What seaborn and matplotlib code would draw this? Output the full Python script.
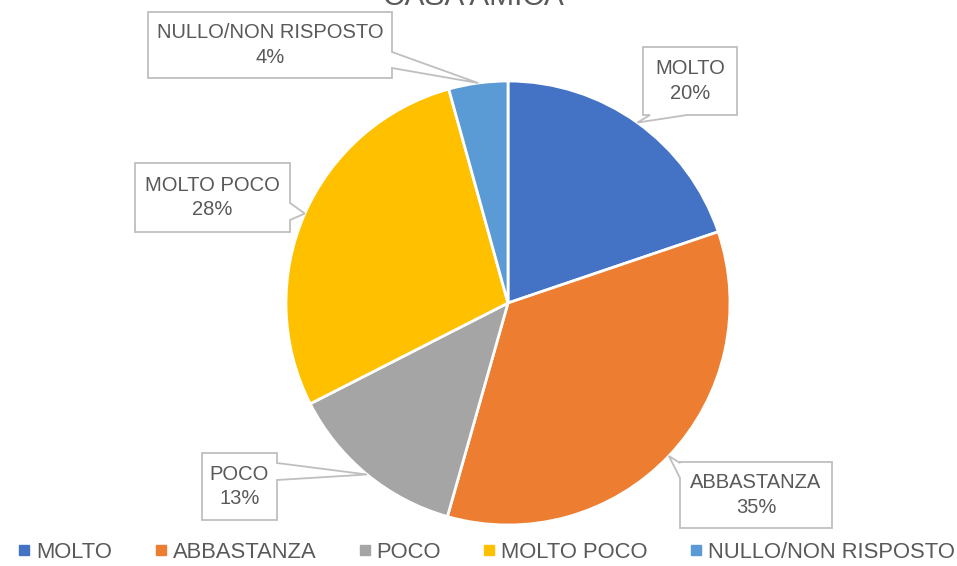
import numpy as np
import matplotlib
matplotlib.use("Agg")
import matplotlib.pyplot as plt
from matplotlib.patches import Polygon
from matplotlib.lines import Line2D
import seaborn as sns

# ---- data ----
title = "CASA AMICA"
categories = ["MOLTO", "ABBASTANZA", "POCO", "MOLTO POCO", "NULLO/NON RISPOSTO"]
values = [19.8, 34.6, 13.1, 28.2, 4.3]
colors = ["#4472C4", "#ED7D31", "#A5A5A5", "#FFC000", "#5B9BD5"]

sns.set_theme(style="white")
plt.rcParams['font.family'] = ['Liberation Sans', 'DejaVu Sans']
TXT = "#595959"

W, H = 957, 566
fig = plt.figure(figsize=(W / 100, H / 100), dpi=100)
ax = fig.add_axes([0, 0, 1, 1])

# pie geometry in pixels (layout)
CX, CY, R = 508, 303, 222

wedges, _ = ax.pie(values, colors=sns.color_palette(colors), startangle=90,
                   counterclock=False, radius=1.0,
                   wedgeprops=dict(edgecolor="white", linewidth=2))
ax.set_aspect('auto')
ax.set_xlim(-CX / R, (W - CX) / R)
ax.set_ylim(-(H - CY) / R, CY / R)
ax.axis('off')


def px(x, y):
    return ((x - CX) / R, (CY - y) / R)


# callout layout: box (x0, y0, x1, y1) in pixels, side, base interval
callouts = [
    ((643, 47, 737, 115), 'bottom', (650, 687)),
    ((680, 462, 832, 528), 'left', (463, 478)),
    ((202, 453, 277, 520), 'right', (463, 480)),
    ((135, 163, 290, 232), 'right', (203, 220)),
    ((148, 12, 392, 78), 'right', (52, 68)),
]

total = sum(values)
for w, cat, val, (box, side, base) in zip(wedges, categories, values, callouts):
    mid = np.deg2rad((w.theta1 + w.theta2) / 2)
    tx, ty = np.cos(mid), np.sin(mid)
    tip_px = (CX + tx * R, CY - ty * R)
    x0, y0, x1, y1 = box
    a, b = base
    if side == 'right':
        verts = [(x0, y0), (x1, y0), (x1, a), tip_px, (x1, b), (x1, y1), (x0, y1)]
    elif side == 'left':
        verts = [(x0, y0), (x1, y0), (x1, y1), (x0, y1), (x0, b), tip_px, (x0, a)]
    else:
        verts = [(x0, y0), (x1, y0), (x1, y1), (b, y1), tip_px, (a, y1), (x0, y1)]
    poly = Polygon([px(*v) for v in verts], closed=True, facecolor="white",
                   edgecolor="#BFBFBF", linewidth=1.3, zorder=3)
    ax.add_patch(poly)
    cxp, cyp = px((x0 + x1) / 2, (y0 + y1) / 2)
    ax.text(cxp, cyp, f"{cat}\n{round(val / total * 100):.0f}%", ha='center',
            va='center', fontsize=14.5, color=TXT, linespacing=1.35, zorder=4)

fig.text(473 / W, 1 - 5 / H, title, ha='center', va='baseline',
         fontsize=21.5, color=TXT)

handles = [Line2D([0], [0], marker='s', linestyle='none', markersize=7,
                  markerfacecolor=c, markeredgecolor=c) for c in colors]
leg = fig.legend(handles, categories, loc='center', ncol=5,
                 bbox_to_anchor=(487 / W, 1 - 552 / H), frameon=False,
                 fontsize=15.8, handlelength=0.5, handletextpad=0.3,
                 columnspacing=1.95, borderpad=0, borderaxespad=0)
for t in leg.get_texts():
    t.set_color(TXT)

fig.savefig("out.png", dpi=100)
